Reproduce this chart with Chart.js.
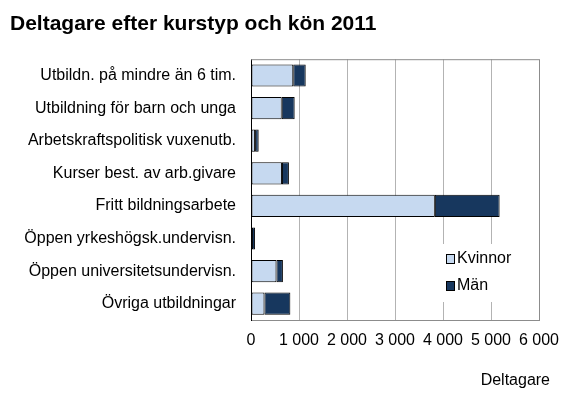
<!DOCTYPE html>
<html>
<head>
<meta charset="utf-8">
<script src="https://cdn.jsdelivr.net/npm/chart.js@4"></script>
<style>
  html, body { margin: 0; padding: 0; background: #fff; }
  #wrap { width: 573px; height: 397px; position: relative; }
</style>
</head>
<body>
<div id="wrap"><canvas id="chart"></canvas></div>
<script>
const categories = [
  "Utbildn. på mindre än 6 tim.",
  "Utbildning för barn och unga",
  "Arbetskraftspolitisk vuxenutb.",
  "Kurser best. av arb.givare",
  "Fritt bildningsarbete",
  "Öppen yrkeshögsk.undervisn.",
  "Öppen universitetsundervisn.",
  "Övriga utbildningar"
];
const kvinnor = [880, 640, 85, 645, 3830, 20, 530, 280]; // Kvinnor
const man = [260, 270, 75, 145, 1350, 65, 135, 540];      // Män
const xTicks = [0, 1000, 2000, 3000, 4000, 5000, 6000];

const FONT = "'Liberation Sans', Arial, sans-serif";
Chart.defaults.font.family = FONT;
Chart.defaults.font.size = 16;
Chart.defaults.color = "#000";

// legend box inside plot + axis title + top/right frame
const extras = {
  id: "extras",
  afterDraw(chart) {
    const ctx = chart.ctx;
    const a = chart.chartArea;
    ctx.save();
    // frame
    ctx.strokeStyle = "#8c8c8c";
    ctx.lineWidth = 1;
    ctx.beginPath();
    ctx.moveTo(a.left, a.top + 0.5);
    ctx.lineTo(a.right + 0.5, a.top + 0.5);
    ctx.lineTo(a.right + 0.5, a.bottom);
    ctx.stroke();
    // legend
    ctx.fillStyle = "#fff";
    ctx.fillRect(440, 244, 95, 58);
    ctx.font = "16px " + FONT;
    ctx.textBaseline = "middle";
    chart.data.datasets.forEach((ds, i) => {
      const y = 259 + i * 27;
      ctx.fillStyle = ds.backgroundColor;
      ctx.fillRect(446.5, y - 4.5, 8, 9);
      ctx.strokeStyle = "#000";
      ctx.strokeRect(446.5, y - 4.5, 8, 9);
      ctx.fillStyle = "#000";
      ctx.fillText(ds.label, 457, y);
    });
    // axis title
    ctx.textAlign = "right";
    ctx.fillText("Deltagare", 550, 381);
    ctx.restore();
  }
};

new Chart(document.getElementById("chart"), {
  type: "bar",
  data: {
    labels: categories,
    datasets: [
      { label: "Kvinnor", data: kvinnor, backgroundColor: "#c6d9f0" },
      { label: "Män", data: man, backgroundColor: "#17375e" }
    ]
  },
  options: {
    indexAxis: "y",
    responsive: true,
    maintainAspectRatio: false,
    animation: false,
    layout: { padding: { left: 10, right: 34, top: 0, bottom: 0 } },
    datasets: {
      bar: {
        borderColor: "#000",
        borderWidth: 1,
        borderSkipped: false,
        categoryPercentage: 1,
        barPercentage: 0.68
      }
    },
    plugins: {
      legend: { display: false },
      tooltip: { enabled: false },
      title: {
        display: true,
        text: "Deltagare efter kurstyp och kön 2011",
        align: "start",
        color: "#000",
        font: { size: 21, weight: "bold", family: FONT },
        padding: { top: 12, bottom: 22 }
      }
    },
    scales: {
      x: {
        stacked: true,
        min: 0,
        max: 6000,
        afterBuildTicks(scale) { scale.ticks = xTicks.map(v => ({ value: v })); },
        afterFit(scale) { scale.height = 77; },
        grid: { color: "#b3b3b3", drawTicks: false },
        border: { color: "#8c8c8c" },
        ticks: {
          padding: 11,
          maxRotation: 0,
          autoSkip: false,
          callback: v => String(v).replace(/\B(?=(\d{3})+(?!\d))/g, " ")
        }
      },
      y: {
        stacked: true,
        afterFit(scale) { scale.width = 241; },
        grid: { display: false, drawTicks: false },
        border: { color: "#000" },
        ticks: { padding: 15 }
      }
    }
  },
  plugins: [extras]
});
</script>
</body>
</html>
